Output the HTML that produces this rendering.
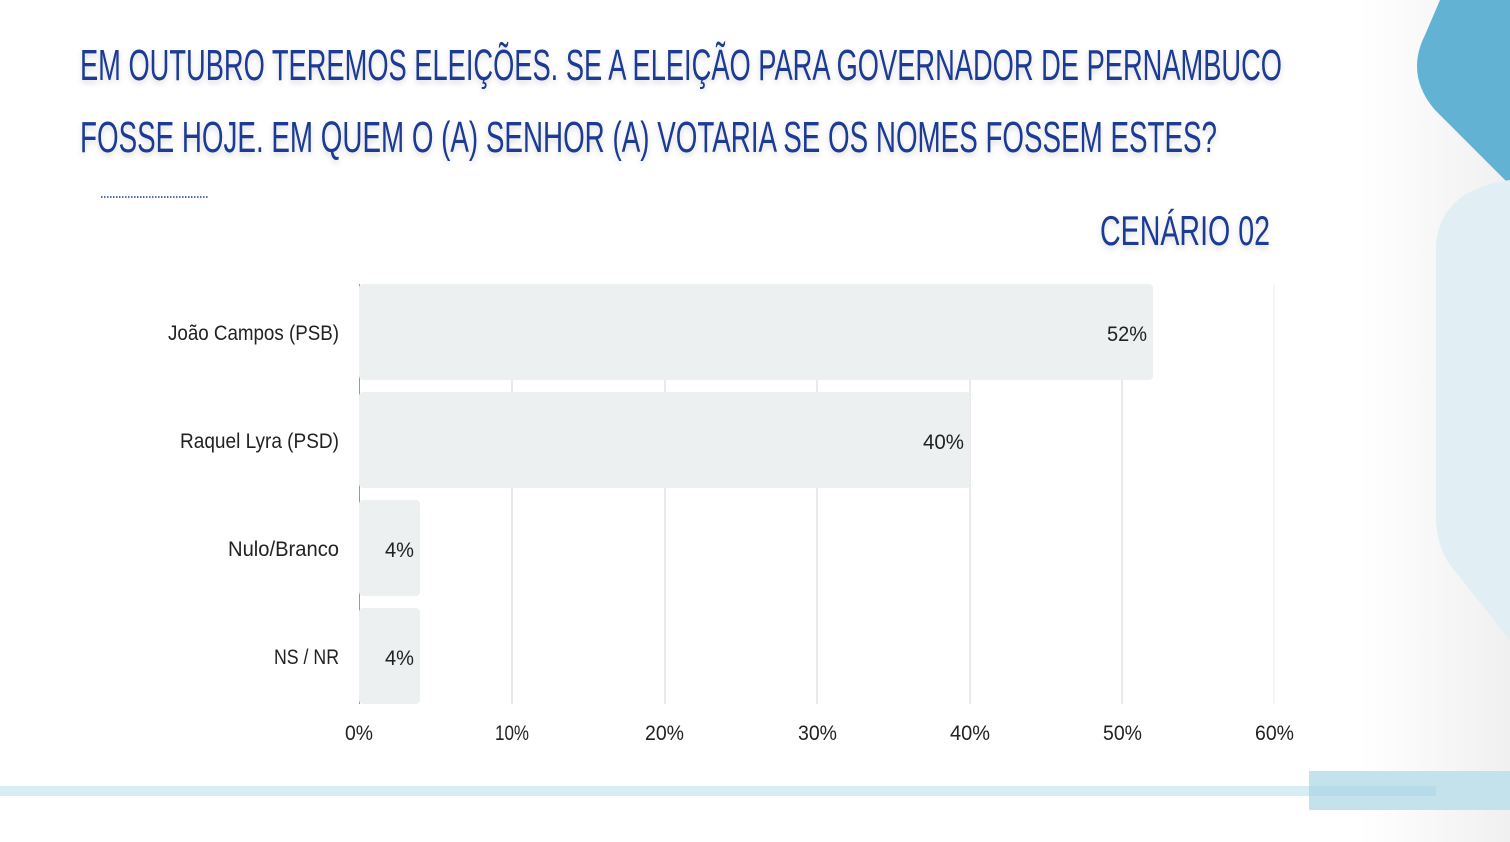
<!DOCTYPE html>
<html><head><meta charset="utf-8"><style>
html,body{margin:0;padding:0;background:#fff;}
</style></head><body>
<svg width="1510" height="842" viewBox="0 0 1510 842" xmlns="http://www.w3.org/2000/svg" style="display:block">
<defs>
<linearGradient id="bg" x1="0" x2="1" y1="0" y2="0">
<stop offset="0" stop-color="#ffffff"/><stop offset="0.9" stop-color="#ffffff"/><stop offset="1" stop-color="#f0f0f0"/>
</linearGradient>
<filter id="sh" x="-5%" y="-30%" width="110%" height="160%"><feDropShadow dx="0" dy="3" stdDeviation="3" flood-color="#000" flood-opacity="0.15"/></filter>
</defs>
<rect width="1510" height="842" fill="url(#bg)"/>
<path d="M1440 0 L1510 0 L1510 185 L1435 110 Q1405 75 1425 35 Z" fill="#62b2d3"/>
<path d="M1510 180 Q1440 190 1436 245 L1436 515 Q1436 545 1450 565 L1510 640 Z" fill="#e1eff4"/>
<rect x="1309" y="771" width="201" height="39" fill="#c3e2ec"/>
<rect x="0" y="786" width="1436" height="10" fill="#a8d5e6" opacity="0.45"/>
<g font-family="'Liberation Sans',sans-serif" fill="#1c3a94" filter="url(#sh)">
<text x="80" y="80" font-size="44" textLength="1202" lengthAdjust="spacingAndGlyphs">EM OUTUBRO TEREMOS ELEIÇÕES. SE A ELEIÇÃO PARA GOVERNADOR DE PERNAMBUCO</text>
<text x="80" y="152" font-size="44" textLength="1137" lengthAdjust="spacingAndGlyphs">FOSSE HOJE. EM QUEM O (A) SENHOR (A) VOTARIA SE OS NOMES FOSSEM ESTES?</text>
<text x="1100" y="245" font-size="42" textLength="170" lengthAdjust="spacingAndGlyphs">CENÁRIO 02</text>
</g>
<line x1="101" y1="197" x2="209" y2="197" stroke="#1c3a94" stroke-width="1.5" stroke-dasharray="1.5 1.5"/>
<g stroke="#d6d6d6" stroke-width="1">
<line x1="512" y1="284" x2="512" y2="704"/><line x1="665" y1="284" x2="665" y2="704"/>
<line x1="817" y1="284" x2="817" y2="704"/><line x1="970" y1="284" x2="970" y2="704"/>
<line x1="1122" y1="284" x2="1122" y2="704"/><line x1="1274" y1="284" x2="1274" y2="704" stroke="#eee"/>
<line x1="359.5" y1="284" x2="359.5" y2="704" stroke="#999"/>
</g>
<g fill="#edf0f0">
<rect x="359" y="284" width="794" height="96" rx="4"/>
<rect x="359" y="392" width="611" height="96" rx="4"/>
<rect x="359" y="500" width="61" height="96" rx="4"/>
<rect x="359" y="608" width="61" height="96" rx="4"/>
</g>
<g font-family="'Liberation Sans',sans-serif" font-size="21" fill="#222" lengthAdjust="spacingAndGlyphs">
<text x="168" y="340" textLength="171" lengthAdjust="spacingAndGlyphs">João Campos (PSB)</text>
<text x="180" y="448" textLength="159" lengthAdjust="spacingAndGlyphs">Raquel Lyra (PSD)</text>
<text x="228" y="556" textLength="111" lengthAdjust="spacingAndGlyphs">Nulo/Branco</text>
<text x="274" y="664" textLength="65" lengthAdjust="spacingAndGlyphs">NS / NR</text>
<text x="1107" y="341" textLength="40" lengthAdjust="spacingAndGlyphs">52%</text>
<text x="923" y="449" textLength="41" lengthAdjust="spacingAndGlyphs">40%</text>
<text x="385" y="557" textLength="29" lengthAdjust="spacingAndGlyphs">4%</text>
<text x="385" y="665" textLength="29" lengthAdjust="spacingAndGlyphs">4%</text>
<text x="345" y="740" textLength="28" lengthAdjust="spacingAndGlyphs">0%</text>
<text x="495" y="740" textLength="34" lengthAdjust="spacingAndGlyphs">10%</text>
<text x="645" y="740" textLength="39" lengthAdjust="spacingAndGlyphs">20%</text>
<text x="798" y="740" textLength="39" lengthAdjust="spacingAndGlyphs">30%</text>
<text x="950" y="740" textLength="40" lengthAdjust="spacingAndGlyphs">40%</text>
<text x="1103" y="740" textLength="39" lengthAdjust="spacingAndGlyphs">50%</text>
<text x="1255" y="740" textLength="39" lengthAdjust="spacingAndGlyphs">60%</text>
</g>
</svg>
</body></html>
